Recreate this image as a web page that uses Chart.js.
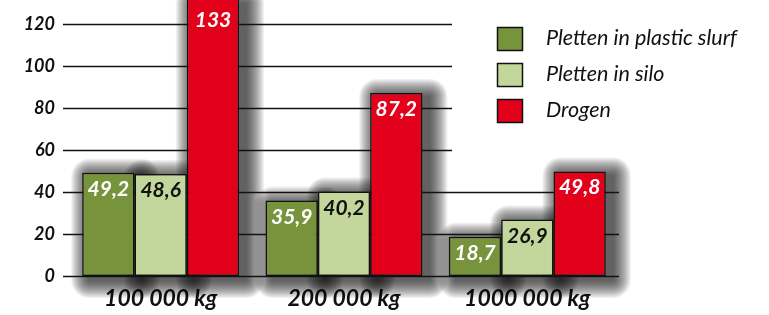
<!DOCTYPE html>
<html>
<head>
<meta charset="utf-8">
<script src="https://cdn.jsdelivr.net/npm/chart.js@4"></script>
<style>
  html, body { margin: 0; padding: 0; background: #fff; }
  #wrap { width: 769px; height: 315px; position: relative; }
</style>
</head>
<body>
<div id="wrap"><canvas id="chart"></canvas></div>
<script>
const categories = ['100 000 kg', '200 000 kg', '1000 000 kg'];
const seriesNames = ['Pletten in plastic slurf', 'Pletten in silo', 'Drogen'];
const plasticValues = [49.2, 35.9, 18.7];
const siloValues = [48.6, 40.2, 26.9];
const drogenValues = [133, 87.2, 49.8];
const yTicks = [0, 20, 40, 60, 80, 100, 120];

const barColors = ['#77933c', '#c3d69b', '#e2001a'];
const labelColors = ['#ffffff', '#111111', '#ffffff'];
const FONT = 'Lato, "Open Sans", "DejaVu Sans", sans-serif';

// soft shadows under the bars, drawn before the bars so they never darken a neighbour
const barShadow = {
    id: 'barShadow',
    beforeDatasetsDraw(chart) {
        const ctx = chart.ctx;
        ctx.save();
        ctx.fillStyle = 'rgba(0,0,0,0.055)';
        chart.data.datasets.forEach((ds, i) => {
            chart.getDatasetMeta(i).data.forEach(bar => {
                const top0 = Math.max(Math.min(bar.y, bar.base), 0);
                const left = bar.x - bar.width / 2 + 7;
                const top = top0 + 4;
                const h = Math.abs(bar.base - top0);
                for (let k = 1; k <= 18; k++) {
                    ctx.beginPath();
                    ctx.roundRect(left - k, top - k, bar.width + 2 * k, h + 2 * k, k);
                    ctx.fill();
                }
            });
        });
        ctx.restore();
    }
};

// horizontal rules; the upper ones stop short of the legend
const rules = {
    id: 'rules',
    beforeDatasetsDraw(chart) {
        const ctx = chart.ctx;
        const y = chart.scales.y;
        const area = chart.chartArea;
        ctx.save();
        ctx.strokeStyle = '#111';
        ctx.lineWidth = 1.3;
        yTicks.forEach(v => {
            const py = Math.round(y.getPixelForValue(v)) + 0.5;
            const endX = v >= 60 ? 452 : area.right;
            ctx.beginPath();
            ctx.moveTo(area.left - 6, py);
            ctx.lineTo(endX, py);
            ctx.stroke();
        });
        ctx.restore();
    }
};

const valueLabels = {
    id: 'valueLabels',
    afterDatasetsDraw(chart) {
        const ctx = chart.ctx;
        ctx.save();
        ctx.font = 'italic bold 21px ' + FONT;
        ctx.textAlign = 'center';
        ctx.textBaseline = 'alphabetic';
        chart.data.datasets.forEach((ds, i) => {
            ctx.fillStyle = labelColors[i];
            chart.getDatasetMeta(i).data.forEach((bar, j) => {
                const top = Math.max(bar.y, chart.chartArea.top + 4);
                ctx.fillText(String(ds.data[j]).replace('.', ','), bar.x, top + 23);
            });
        });
        ctx.restore();
    }
};

const sideLegend = {
    id: 'sideLegend',
    afterDraw(chart) {
        const ctx = chart.ctx;
        ctx.save();
        ctx.font = 'italic 21.5px ' + FONT;
        ctx.textBaseline = 'alphabetic';
        seriesNames.forEach((name, i) => {
            const y = 27 + i * 36;
            ctx.fillStyle = barColors[i];
            ctx.fillRect(497, y, 26, 24);
            ctx.strokeStyle = '#111';
            ctx.lineWidth = 1.5;
            ctx.strokeRect(497.5, y + 0.5, 25, 23);
            ctx.fillStyle = '#111';
            ctx.fillText(name, 546, y + 18);
        });
        ctx.restore();
    }
};

const ctx = document.getElementById('chart').getContext('2d');
new Chart(ctx, {
    type: 'bar',
    data: {
        labels: categories,
        datasets: [
            { label: seriesNames[0], data: plasticValues, backgroundColor: barColors[0] },
            { label: seriesNames[1], data: siloValues, backgroundColor: barColors[1] },
            { label: seriesNames[2], data: drogenValues, backgroundColor: barColors[2] }
        ]
    },
    options: {
        responsive: true,
        maintainAspectRatio: false,
        animation: false,
        devicePixelRatio: 1,
        layout: { padding: { left: 0, right: 150, top: 0, bottom: 0 } },
        datasets: {
            bar: {
                barPercentage: 1,
                categoryPercentage: 0.856,
                borderColor: '#111',
                borderWidth: 1.5,
                borderSkipped: false,
                clip: false
            }
        },
        plugins: {
            legend: { display: false },
            tooltip: { enabled: false }
        },
        scales: {
            x: {
                grid: { display: false, drawTicks: false },
                border: { display: false },
                ticks: {
                    color: '#111',
                    padding: 9,
                    font: { family: FONT, size: 23, weight: 'bold', style: 'italic' }
                },
                afterFit(scale) {
                    scale.height = 39;
                    scale.paddingLeft = 0;
                    scale.paddingRight = 0;
                }
            },
            y: {
                min: 0,
                max: 276 / 2.1,
                grid: { display: false },
                border: { display: false },
                ticks: {
                    stepSize: 20,
                    includeBounds: false,
                    color: '#111',
                    padding: 6,
                    font: { family: FONT, size: 18, weight: 'bold', style: 'italic' }
                },
                afterFit(scale) {
                    scale.width = 69;
                    scale.paddingTop = 0;
                    scale.paddingBottom = 0;
                }
            }
        }
    },
    plugins: [barShadow, rules, valueLabels, sideLegend]
});
</script>
</body>
</html>
